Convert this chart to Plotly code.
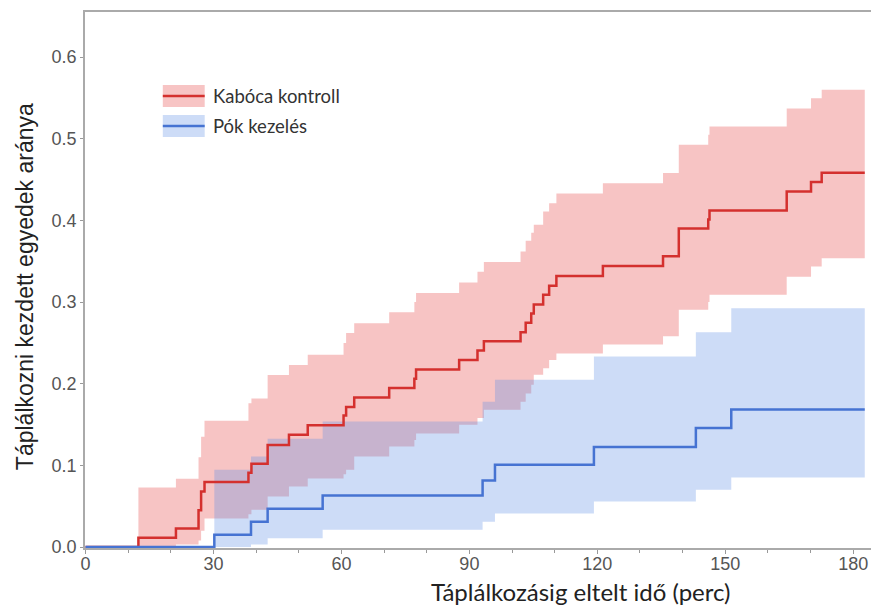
import plotly.graph_objects as go

# ---- data ----
red_t = [0, 12.4, 21.2, 26.5, 27.1, 27.9, 38.2, 38.9, 42.7, 47.7, 52.1, 60.5, 61.1, 63.0,
         71.2, 77.1, 77.5, 87.6, 91.9, 93.4, 102.0, 103.2, 104.5, 105.1, 107.3, 108.7,
         110.4, 121.3, 135.4, 139.1, 146.0, 146.3, 164.4, 170.1, 172.6, 182.7]
red_est = [0, 0.0114, 0.0227, 0.045, 0.068, 0.0795, 0.091, 0.102, 0.125, 0.1375, 0.149,
           0.161, 0.1715, 0.183, 0.1947, 0.206, 0.2175, 0.229, 0.2408, 0.252, 0.263,
           0.2747, 0.286, 0.297, 0.309, 0.320, 0.332, 0.344, 0.356, 0.39, 0.401, 0.412,
           0.4355, 0.447, 0.4584, 0.4584]
# confidence band (defined from the first event on)
red_band_t = red_t[1:]
red_upper = [0.073, 0.0835, 0.11, 0.135, 0.1545, 0.176, 0.182, 0.2108, 0.223, 0.2355,
             0.25, 0.262, 0.274, 0.2875, 0.30, 0.311, 0.324, 0.337, 0.349, 0.362, 0.375,
             0.385, 0.3946, 0.411, 0.421, 0.433, 0.4455, 0.458, 0.4925, 0.505, 0.515,
             0.537, 0.5496, 0.56, 0.56]
red_lower = [0.0, 0.003, 0.008, 0.02, 0.035, 0.04, 0.0455, 0.062, 0.074, 0.084, 0.089,
             0.0945, 0.111, 0.123, 0.131, 0.139, 0.1496, 0.158, 0.168, 0.178, 0.188,
             0.1986, 0.211, 0.219, 0.229, 0.237, 0.248, 0.258, 0.2905, 0.30, 0.309,
             0.331, 0.3435, 0.3535, 0.3535]

blue_t = [0, 30.2, 38.8, 42.7, 55.6, 93.1, 96.0, 119.2, 143.1, 151.4, 182.7]
blue_est = [0, 0.015, 0.031, 0.047, 0.063, 0.0816, 0.1008, 0.1224, 0.1457, 0.1685, 0.1685]
blue_band_t = blue_t[1:]
blue_upper = [0.0945, 0.111, 0.1325, 0.1537, 0.178, 0.2047, 0.2333, 0.263, 0.2923, 0.2923]
blue_lower = [0.0, 0.003, 0.0108, 0.021, 0.031, 0.041, 0.0557, 0.07, 0.0851, 0.0851]

x_ticks = [0, 30, 60, 90, 120, 150, 180]
y_ticks = [0.0, 0.1, 0.2, 0.3, 0.4, 0.5, 0.6]
y_ticktext = ["0.0", "0.1", "0.2", "0.3", "0.4", "0.5", "0.6"]

series_names = ["Kabóca kontroll", "Pók kezelés"]
x_title = "Táplálkozásig eltelt idő (perc)"
y_title = "Táplálkozni kezdett egyedek aránya"

RED_LINE = "#D4302E"
BLUE_LINE = "#4673D2"
RED_FILL = "rgba(235,100,100,0.38)"
BLUE_FILL = "rgba(90,140,230,0.30)"

# page has an 8px body margin; figure coordinates = page coordinates - 8
OFF = 8
W, H = 871, 600
ML, MT = 85 - OFF, 12 - OFF
PW, PH = 792, 536
MR = W - ML - PW
MB = H - MT - PH


def px_x(x):  # page pixel -> paper
    return (x - OFF - ML) / PW


def px_y(y):
    return (MT + PH - (y - OFF)) / PH


fig = go.Figure()

# bands
fig.add_trace(go.Scatter(x=red_band_t, y=red_lower, mode="lines", line=dict(width=0, shape="hv"),
                         showlegend=False, hoverinfo="skip"))
fig.add_trace(go.Scatter(x=red_band_t, y=red_upper, mode="lines", line=dict(width=0, shape="hv"),
                         fill="tonexty", fillcolor=RED_FILL, showlegend=False, hoverinfo="skip"))
fig.add_trace(go.Scatter(x=blue_band_t, y=blue_lower, mode="lines", line=dict(width=0, shape="hv"),
                         showlegend=False, hoverinfo="skip"))
fig.add_trace(go.Scatter(x=blue_band_t, y=blue_upper, mode="lines", line=dict(width=0, shape="hv"),
                         fill="tonexty", fillcolor=BLUE_FILL, showlegend=False, hoverinfo="skip"))

# estimate lines
fig.add_trace(go.Scatter(x=red_t, y=red_est, mode="lines", name=series_names[0],
                         line=dict(color=RED_LINE, width=2.5, shape="hv"), showlegend=False))
fig.add_trace(go.Scatter(x=blue_t, y=blue_est, mode="lines", name=series_names[1],
                         line=dict(color=BLUE_LINE, width=2.5, shape="hv"), showlegend=False))

# manual legend (decoration in paper coordinates)
shapes = []
annotations = []
legend_rows = [(series_names[0], RED_FILL, RED_LINE, 85, 107, 96),
               (series_names[1], BLUE_FILL, BLUE_LINE, 115, 137, 126)]
for name, fillc, linec, ytop, ybot, ymid in legend_rows:
    shapes.append(dict(type="rect", xref="paper", yref="paper",
                       x0=px_x(163), x1=px_x(205), y0=px_y(ybot), y1=px_y(ytop),
                       fillcolor=fillc, line=dict(width=0), layer="above"))
    shapes.append(dict(type="line", xref="paper", yref="paper",
                       x0=px_x(163), x1=px_x(205), y0=px_y(ymid), y1=px_y(ymid),
                       line=dict(color=linec, width=2.5), layer="above"))
    annotations.append(dict(text=name, xref="paper", yref="paper", x=px_x(211), y=px_y(ymid),
                            xanchor="left", yanchor="middle", showarrow=False,
                            font=dict(family="Lato, Open Sans, sans-serif", size=18.5, color="#333333")))

annotations.append(dict(text=x_title, xref="paper", yref="paper", x=px_x(582), y=px_y(591),
                        xanchor="center", yanchor="middle", showarrow=False,
                        font=dict(family="Lato, Open Sans, sans-serif", size=24, color="#222222")))
annotations.append(dict(text=y_title, xref="paper", yref="paper", x=px_x(25), y=px_y(287),
                        xanchor="center", yanchor="middle", showarrow=False, textangle=-90,
                        font=dict(family="Liberation Sans, Arial, sans-serif", size=23, color="#222222")))

tickfont = dict(family="Liberation Sans Narrow, Liberation Sans, Arial, sans-serif", size=18, color="#555555")

fig.update_layout(
    width=W, height=H, autosize=False,
    margin=dict(l=ML, r=MR, t=MT, b=MB, pad=0),
    paper_bgcolor="white", plot_bgcolor="white",
    shapes=shapes, annotations=annotations,
    xaxis=dict(range=[-0.12, 185.1], tickvals=x_ticks, ticks="outside", ticklen=4,
               tickcolor="#999999", tickwidth=1, ticklabelstandoff=-5,
               minor=dict(dtick=10, tick0=0, ticks="outside", ticklen=3, tickcolor="#999999"),
               showline=True, linecolor="#aaaaaa", linewidth=1.5, mirror=True,
               showgrid=False, zeroline=False, tickfont=tickfont),
    yaxis=dict(range=[-0.0012, 0.6552], tickvals=y_ticks, ticktext=y_ticktext, ticks="outside",
               ticklen=3, tickcolor="#999999", tickwidth=1,
               showline=True, linecolor="#aaaaaa", linewidth=1.5, mirror=True,
               showgrid=False, zeroline=False, tickfont=tickfont),
)

fig.write_html("out.html")
